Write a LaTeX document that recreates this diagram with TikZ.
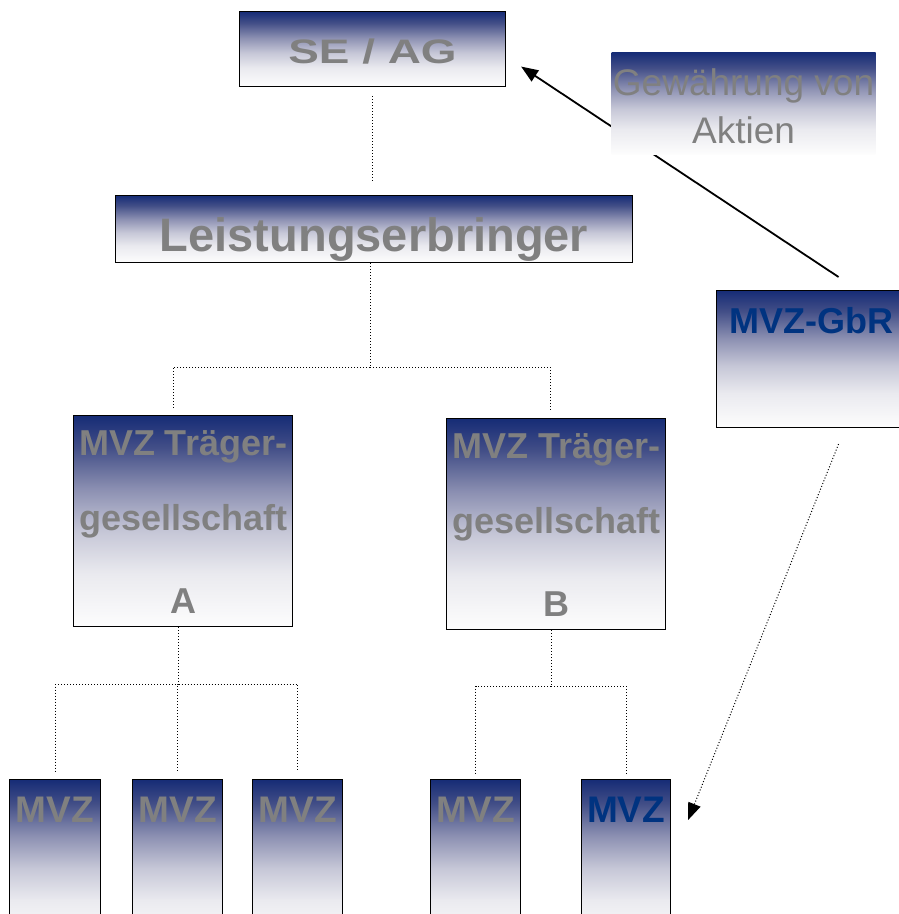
\documentclass[tikz,border=0pt]{standalone}
\usepackage{fontspec}
\setmainfont{Liberation Sans}
\newfontfamily\widesf[FakeStretch=1.35]{Liberation Sans}
\usetikzlibrary{arrows.meta}

\definecolor{txtgray}{RGB}{128,128,128}
\definecolor{txtblue}{RGB}{0,51,128}
\definecolor{shZero}{RGB}{22,44,118}
\definecolor{shOne}{RGB}{66,78,135}
\definecolor{shTwo}{RGB}{140,144,178}
\definecolor{shThree}{RGB}{198,199,215}
\definecolor{shFour}{RGB}{234,234,239}
\definecolor{shFive}{RGB}{253,253,253}

\pgfdeclareverticalshading{boxshade}{100bp}{color(0bp)=(shFive); color(25bp)=(shFive);
  color(37.5bp)=(shFour); color(47.5bp)=(shThree); color(57.5bp)=(shTwo);
  color(67.5bp)=(shOne); color(75bp)=(shZero); color(100bp)=(shZero)}

\begin{document}
\begin{tikzpicture}[x=1pt,y=-1pt,
  box/.style={draw=black,line width=1.1pt,shading=boxshade,inner sep=0pt,anchor=north west,text=txtgray},
  mvz/.style={box,text height=43pt,text depth=118pt,font=\bfseries\fontsize{37}{40}\selectfont},
  traeger/.style={box,minimum width=219pt,align=center,text height=198pt,text depth=13pt,
    font=\bfseries\fontsize{36}{75}\selectfont},
  tree/.style={line width=1pt,dash pattern=on 1pt off 2pt},
  tip/.style={-{Triangle[length=17pt,width=13pt]}}]
\useasboundingbox (0,0) rectangle (899,914);

% boxes
\node[box,minimum width=266pt,text height=52pt,text depth=23pt,
  font=\widesf\bfseries\fontsize{34}{40}\selectfont] (se) at (239,11) {SE / AG};
\node[box,minimum width=517pt,text height=56pt,text depth=11pt,
  font=\bfseries\fontsize{47}{50}\selectfont] (lb) at (115,195) {Leistungserbringer};
\node[traeger] (ta) at (73,415) {MVZ Träger-\\gesellschaft\\[8pt]A};
\node[traeger] (tb) at (446,418) {MVZ Träger-\\gesellschaft\\[8pt]B};
\node[mvz,minimum width=91pt] (m1) at (9,779) {MVZ};
\node[mvz,minimum width=90pt] (m2) at (132,779) {MVZ};
\node[mvz,minimum width=90pt] (m3) at (252,779) {MVZ};
\node[mvz,minimum width=90pt] (m4) at (430,779) {MVZ};
\node[mvz,minimum width=89pt,text=txtblue] (m5) at (581,779) {MVZ};
\node[box,minimum width=189pt,text height=43pt,text depth=94pt,text=txtblue,
  font=\bfseries\fontsize{36}{40}\selectfont] (gbr) at (716,290) {MVZ-GbR};

% tree
\draw[tree,shorten <=9pt,shorten >=12pt] (se.south) -- (se.south |- lb.north);
\draw[tree] ([xshift=-4pt]lb.south) -- ++(0,104) coordinate (forkL);
\draw[tree,shorten >=5pt] (forkL) -| ([xshift=-10pt]ta.north);
\draw[tree,shorten >=6pt] (forkL) -| ([xshift=-6pt]tb.north);
\draw[tree] ([xshift=-4.5pt]ta.south) -- ++(0,57) coordinate (forkA);
\draw[tree,shorten >=7pt] (forkA) -| (m1.north);
\draw[tree,shorten >=7pt] (forkA) -| (m2.north);
\draw[tree,shorten >=7pt] (forkA) -| (m3.north);
\draw[tree] ([xshift=-5pt]tb.south) -- ++(0,56) coordinate (forkB);
\draw[tree,shorten >=4pt] (forkB) -| (m4.north);
\draw[tree,shorten >=4pt] (forkB) -| (m5.north);

% arrows
\draw[tip,line width=1.8pt] ([xshift=27.5pt,yshift=13pt]gbr.north) -- ([xshift=15pt,yshift=-17.5pt]se.east);
\draw[tree,tip] ([xshift=27.5pt,yshift=-16pt]gbr.south) -- ([xshift=17pt,yshift=-41pt]m5.north east);

% label over the arrow
\node[box,draw=none,minimum width=264pt,align=center,text height=91pt,text depth=11pt,
  font=\fontsize{37}{48}\selectfont] (gew) at (611,52) {Gewährung von\\Aktien};
\end{tikzpicture}
\end{document}
